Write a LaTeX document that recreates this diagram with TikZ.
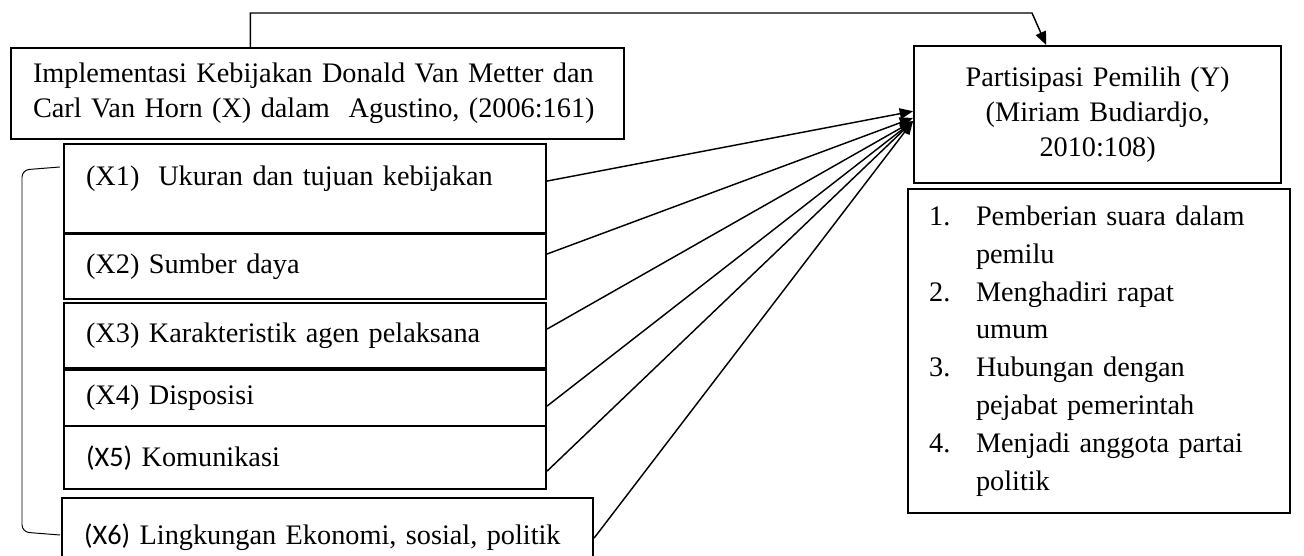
\documentclass[tikz,border=0pt]{standalone}
\usepackage{fontspec}
\setmainfont{Liberation Serif}
\newfontfamily\calibrifont{Carlito}
\usetikzlibrary{arrows.meta}

\newcommand{\enumline}[2]{\makebox[19.4pt][l]{#1}#2}

\begin{document}
\begin{tikzpicture}[x=0.4138pt,y=-0.4138pt,font=\fontsize{11.7pt}{14.5pt}\selectfont,
    varbox/.style={draw,line width=.9pt,anchor=north west,inner ysep=0pt},
    dimension/.style={varbox,align=left,inner xsep=9.1pt,text width=181.2pt,
      minimum height=#1},
    link/.style={line width=.6pt,-{Triangle[length=5.5pt,width=4.5pt]}}]
    \useasboundingbox (0,0) rectangle (1304,556);

    \node[varbox,align=left,inner xsep=9.1pt,text width=235.4pt,
      minimum height=37.7pt] (impl) at (10,47)
      {Implementasi Kebijakan Donald Van Metter dan\\
       Carl Van Horn (X) dalam\ \ Agustino, (2006:161)};

    \node[dimension=36.8pt] (x1) at (63,143)
      {(X1)\ \ Ukuran dan tujuan kebijakan\\[-4pt]\mbox{}};
    \node[dimension=26.9pt] (x2) at (63,233) {(X2) Sumber daya};
    \node[dimension=26.9pt] (x3) at (63,302) {(X3) Karakteristik agen pelaksana};
    \node[dimension=23.2pt] (x4) at (63,369) {(X4) Disposisi};
    \node[dimension=26.1pt] (x5) at (63,425) {{\calibrifont(X5)} Komunikasi};
    \node[dimension=32.3pt,text width=201.5pt] (x6) at (61,497)
      {{\calibrifont(X6)} Lingkungan Ekonomi, sosial, politik};

    \node[varbox,align=center,inner xsep=10pt,text width=131.9pt,
      minimum height=56.7pt] (yv) at (913,45)
      {Partisipasi Pemilih (Y)\\(Miriam Budiardjo,\\2010:108)};
    \node[varbox,align=left,inner xsep=8.7pt,text width=140.7pt,
      minimum height=134.1pt,font=\fontsize{11.7pt}{15.7pt}\selectfont] (ind) at (907,188)
      {\enumline{1.}{Pemberian suara dalam}\\
       \enumline{}{pemilu}\\
       \enumline{2.}{Menghadiri rapat}\\
       \enumline{}{umum}\\
       \enumline{3.}{Hubungan dengan}\\
       \enumline{}{pejabat pemerintah}\\
       \enumline{4.}{Menjadi anggota partai}\\
       \enumline{}{politik}};

    % bracket round the six dimensions
    \draw[line width=.4pt,rounded corners=3pt] (60,167) -- (22,170) -- (22,532)
      -- (60,535);

    % X to Y
    \coordinate (turn) at (1032,13);
    \draw[link] ([xshift=-27.8pt]impl.north) |- (turn) -- ([xshift=-21.3pt]yv.north);
    \draw[link] ([yshift=3.1pt]x1.east) -- ([yshift=1.4pt]yv.west);
    \draw[link] ([yshift=5.2pt]x2.east) -- ([yshift=-1.4pt]yv.west);
    \draw[link] ([yshift=2.7pt]x3.east) -- ([yshift=-2.7pt]yv.west);
    \draw[link] ([yshift=-3.3pt]x4.east) -- ([yshift=-2.7pt]yv.west);
    \draw[link] ([yshift=-5.6pt]x5.east) -- ([yshift=-2.7pt]yv.west);
    \draw[link] ([yshift=-.4pt]x6.east) -- ([yshift=-2.7pt]yv.west);
  \end{tikzpicture}
\end{document}
